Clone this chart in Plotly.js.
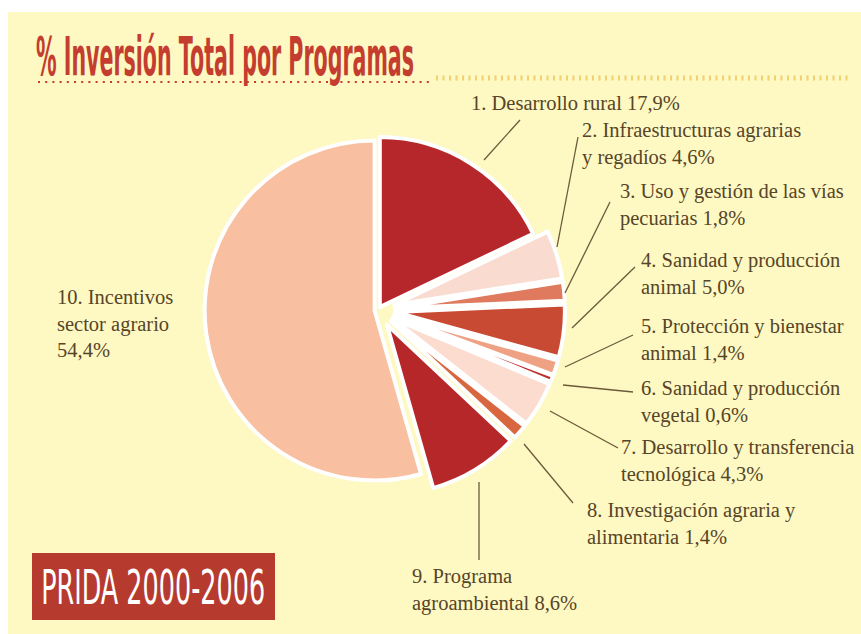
<!DOCTYPE html>
<html>
<head>
<meta charset="utf-8">
<script src="https://cdn.plot.ly/plotly-3.0.1.min.js"></script>
<style>
  html, body { margin: 0; padding: 0; background: #ffffff; }
  #chart { width: 861px; height: 634px; }
</style>
</head>
<body>
<div id="chart"></div>
<script>
// ---- data ----
const programs = [
  "1. Desarrollo rural",
  "2. Infraestructuras agrarias y regadíos",
  "3. Uso y gestión de las vías pecuarias",
  "4. Sanidad y producción animal",
  "5. Protección y bienestar animal",
  "6. Sanidad y producción vegetal",
  "7. Desarrollo y transferencia tecnológica",
  "8. Investigación agraria y alimentaria",
  "9. Programa agroambiental",
  "10. Incentivos sector agrario"
];
const shares = [17.9, 4.6, 1.8, 5.0, 1.4, 0.6, 4.3, 1.4, 8.6, 54.4];
const labelTexts = [
  "1. Desarrollo rural 17,9%",
  "2. Infraestructuras agrarias<br>y regadíos 4,6%",
  "3. Uso y gestión de las vías<br>pecuarias 1,8%",
  "4. Sanidad y producción<br>animal 5,0%",
  "5. Protección y bienestar<br>animal 1,4%",
  "6. Sanidad y producción<br>vegetal 0,6%",
  "7. Desarrollo y transferencia<br>tecnológica 4,3%",
  "8. Investigación agraria y<br>alimentaria 1,4%",
  "9. Programa<br>agroambiental 8,6%",
  "10. Incentivos<br>sector agrario<br>54,4%"
];
const titleText = "% Inversión Total por Programas";
const badgeText = "PRIDA 2000-2006";

// ---- styling / layout ----
const sliceColors = ["#b5272a", "#fadbd0", "#df7a5e", "#c94a33", "#eea283",
                     "#bd3330", "#fbdccf", "#d8663f", "#b6272a", "#f8c0a0"];
const pulls = [0.02, 0.1, 0.1, 0.1, 0.1, 0.1, 0.1, 0.1, 0.1, 0.02];

const W = 861, H = 634;
const px = x => x / W;
const py = y => 1 - y / H;

// label anchor points (left edge, vertical middle) in pixels
const labelPos = [
  [469, 103], [580, 144], [618, 205], [639, 273], [639, 339],
  [639, 402], [619, 461], [585, 523], [410, 590], [55, 323]
];
// leader lines in pixels [x0,y0,x1,y1]
const leaders = [
  [520, 120, 484, 160],
  [578, 137, 557, 247],
  [610, 202, 565, 293],
  [635, 267, 572, 328],
  [633, 335, 565, 367],
  [633, 392, 563, 385],
  [618, 448, 550, 411],
  [573, 503, 524, 444],
  [479, 560, 479, 482]
];

const textColor = "#564528";
const serif = "Liberation Serif, DejaVu Serif, serif";
const sans = "DejaVu Sans, sans-serif";

const trace = {
  type: "pie",
  labels: programs,
  values: shares,
  sort: false,
  direction: "clockwise",
  rotation: 0,
  pull: pulls,
  textinfo: "none",
  hoverinfo: "label+percent",
  marker: { colors: sliceColors, line: { color: "#ffffff", width: 4 } },
  domain: { x: [px(191), px(565)], y: [py(497), py(123)] },
  showlegend: false
};

const shapes = [
  { type: "rect", xref: "paper", yref: "paper", x0: px(8), x1: 1, y0: 0, y1: py(12),
    fillcolor: "#fef8c2", line: { width: 0 }, layer: "below" },
  { type: "line", xref: "paper", yref: "paper", x0: px(38), x1: px(432), y0: py(82), y1: py(82),
    line: { color: "#c43d2e", width: 2.2, dash: "2px,5.2px" } },
  { type: "line", xref: "paper", yref: "paper", x0: px(436), x1: px(852), y0: py(78), y1: py(78),
    line: { color: "#f2cf70", width: 5, dash: "2px,4.5px" } },
  { type: "rect", xref: "paper", yref: "paper", x0: px(32), x1: px(275), y0: py(620), y1: py(553),
    fillcolor: "#b73a2e", line: { width: 0 } }
];
leaders.forEach(l => shapes.push({
  type: "line", xref: "paper", yref: "paper",
  x0: px(l[0]), y0: py(l[1]), x1: px(l[2]), y1: py(l[3]),
  line: { color: "#6b5a3a", width: 1.3 }
}));

const annotations = labelTexts.map((t, i) => ({
  text: t, xref: "paper", yref: "paper",
  x: px(labelPos[i][0]), y: py(labelPos[i][1]),
  xanchor: "left", yanchor: "middle", align: "left", showarrow: false,
  font: { family: serif, size: 20.5, color: textColor }
}));
annotations.push({
  text: badgeText, xref: "paper", yref: "paper",
  x: px(153), y: py(587), xanchor: "center", yanchor: "middle", showarrow: false,
  font: { family: sans, size: 48, color: "#ffffff" }
});

const layout = {
  width: W, height: H,
  margin: { l: 0, r: 0, t: 0, b: 0 },
  paper_bgcolor: "#ffffff",
  title: {
    text: titleText,
    font: { family: sans, size: 54, color: "#c43d2e", weight: "bold" },
    xref: "paper", x: px(36), xanchor: "left",
    yref: "container", y: py(56), yanchor: "middle"
  },
  shapes: shapes,
  annotations: annotations
};

// compress a text element horizontally to a target width (condensed display face look)
function condense(el, targetWidth, anchor) {
  if (!el) return;
  const bb = el.getBBox();
  const s = targetWidth / bb.width;
  const ax = anchor === "left" ? bb.x : bb.x + bb.width / 2;
  const prev = el.getAttribute("transform") || "";
  el.setAttribute("transform",
    prev + " translate(" + ax + ",0) scale(" + s + ",1) translate(" + (-ax) + ",0)");
}

Plotly.newPlot("chart", [trace], layout, { displayModeBar: false, staticPlot: true }).then(gd => {
  condense(gd.querySelector(".gtitle"), 378, "left");
  const ann = gd.querySelectorAll(".annotation-text");
  condense(ann[ann.length - 1], 224, "center");
});
</script>
</body>
</html>
